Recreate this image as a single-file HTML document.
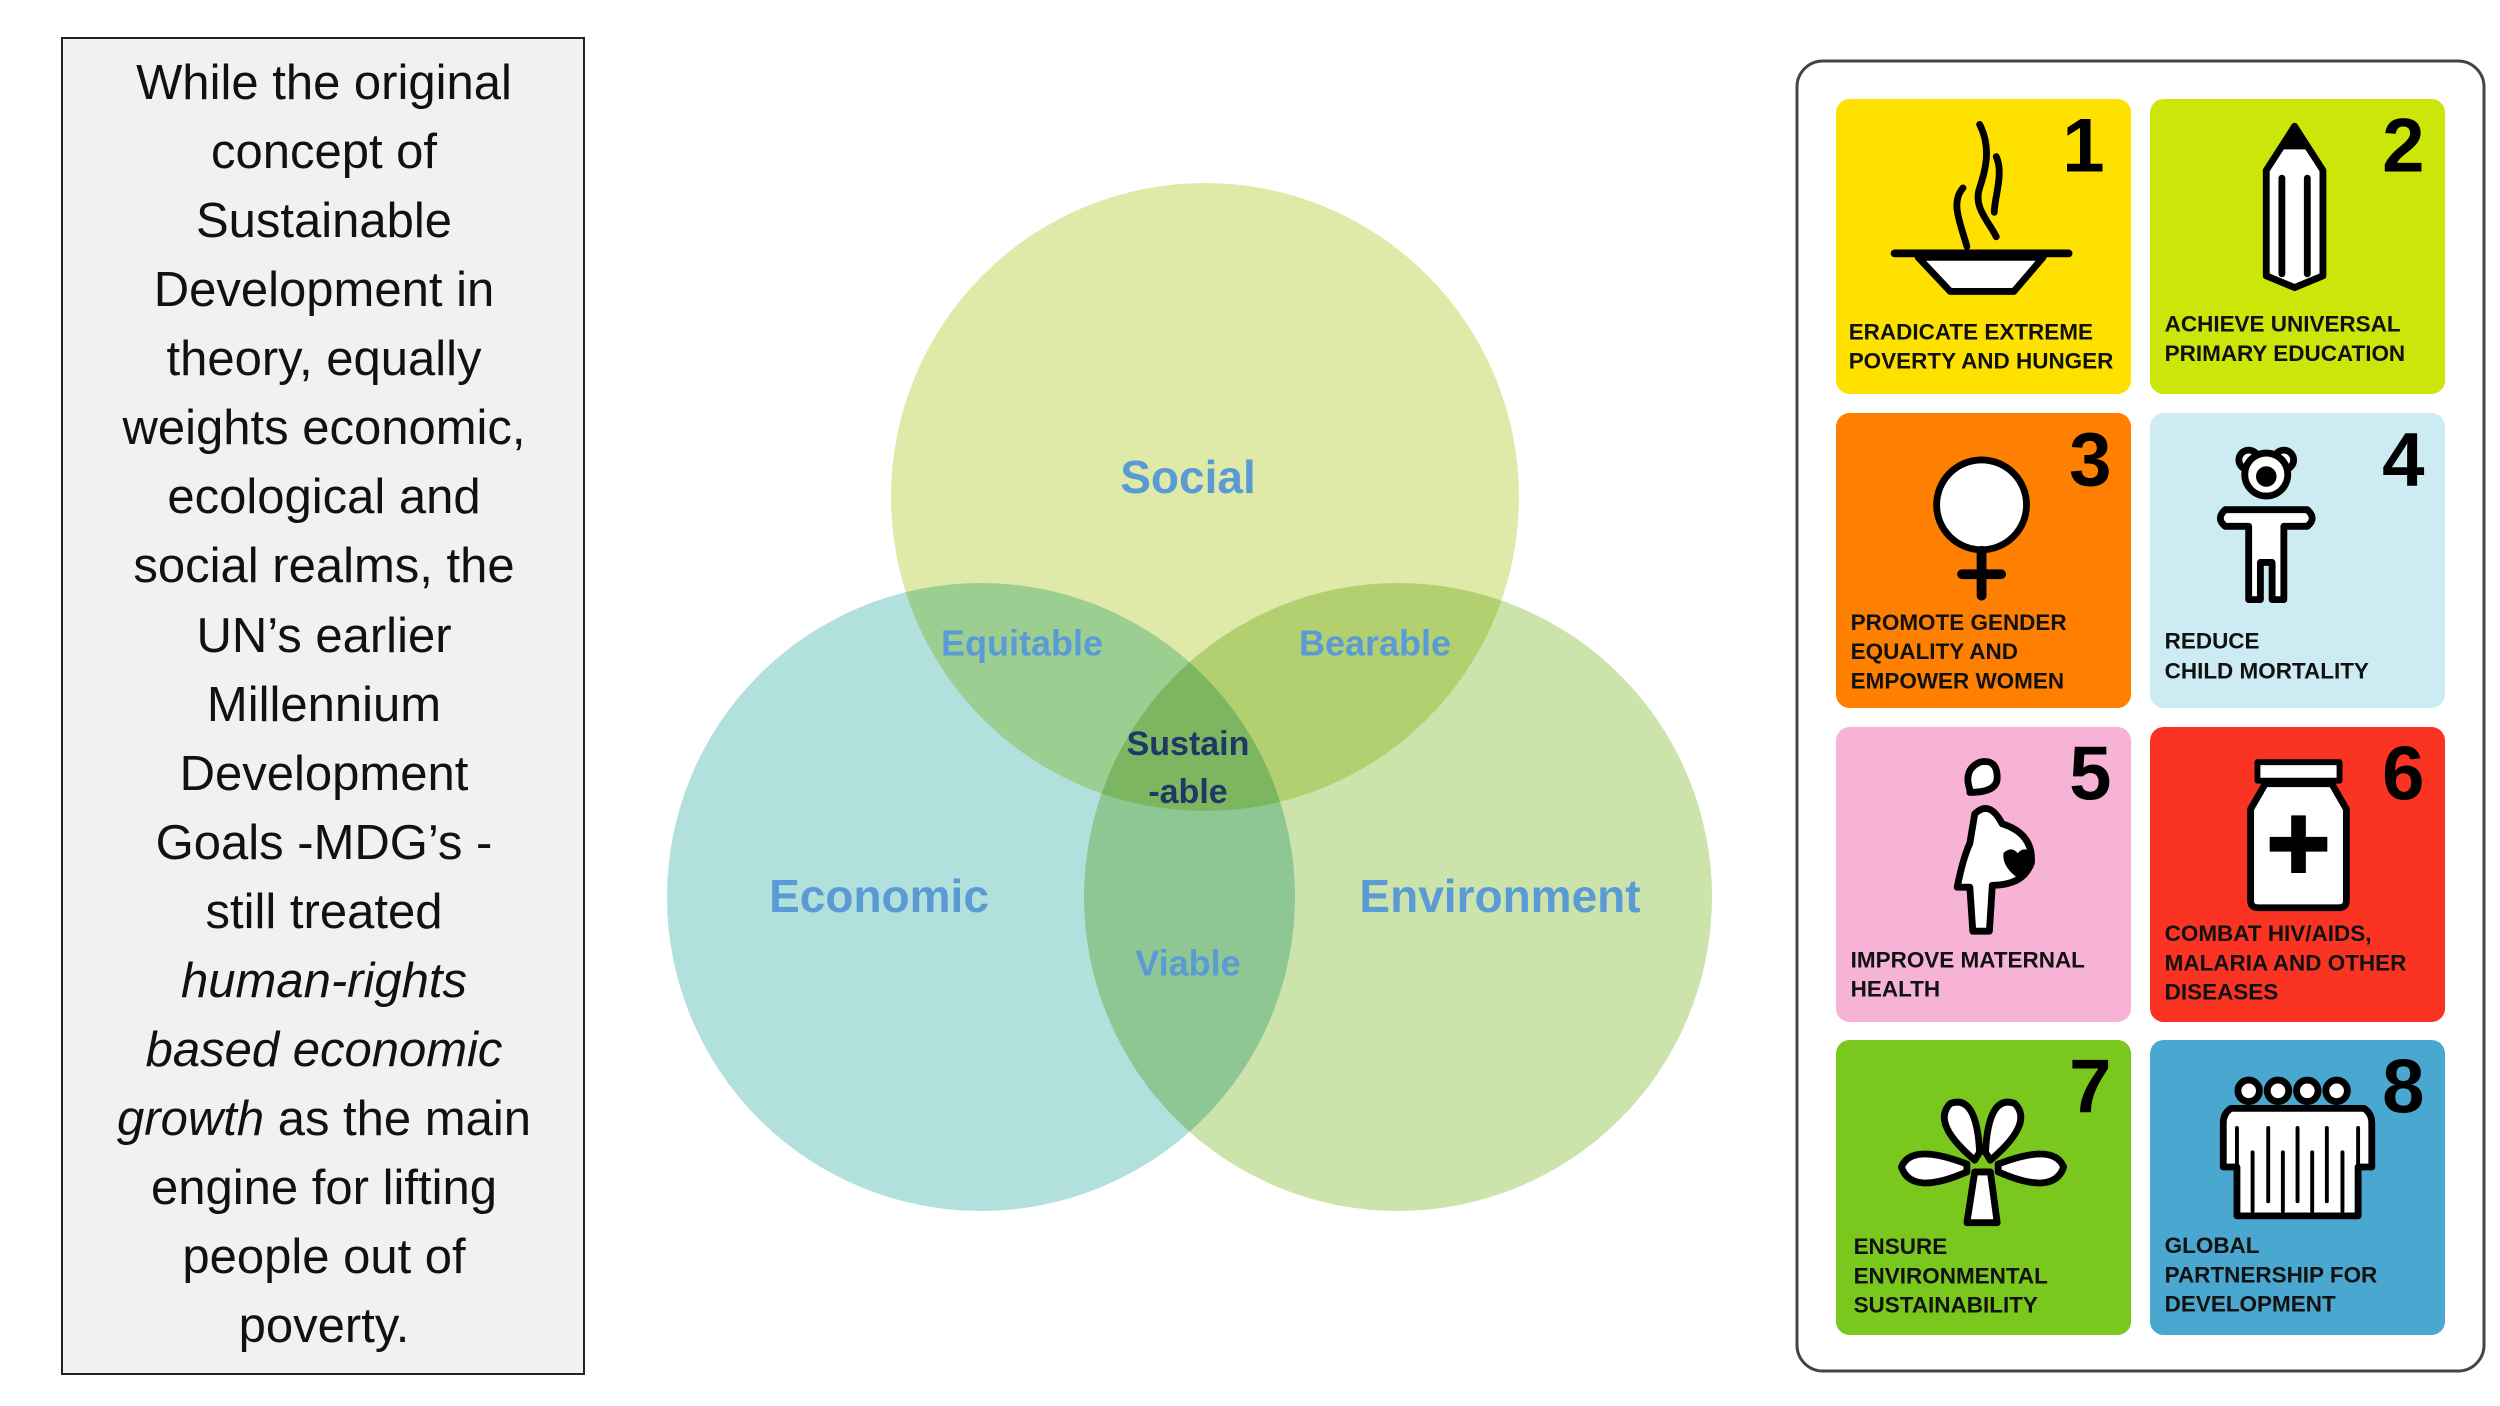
<!DOCTYPE html>
<html><head><meta charset="utf-8"><style>
html,body{margin:0;padding:0;background:#fff;width:2500px;height:1406px;overflow:hidden}
svg{display:block}
.t{font-family:"Liberation Sans",sans-serif;font-size:49px;fill:#111;text-anchor:middle}
.v{font-family:"Liberation Sans",sans-serif;font-weight:bold;text-anchor:middle;dominant-baseline:central}
.g{font-family:"Liberation Sans",sans-serif;font-weight:bold;font-size:23px;fill:#111}
.n{font-family:"Liberation Sans",sans-serif;font-weight:bold;font-size:78px;fill:#000;text-anchor:end}
.ic{fill:#fff;stroke:#000;stroke-width:7;stroke-linejoin:round;stroke-linecap:round}
</style></head><body>
<svg width="2500" height="1406" viewBox="0 0 2500 1406">
<rect x="62" y="38" width="522" height="1336" fill="#f1f1f1" stroke="#222" stroke-width="2"/>
<g class="t" xml:space="preserve">
<text x="324" y="99">While the original</text>
<text x="324" y="168">concept of</text>
<text x="324" y="237">Sustainable</text>
<text x="324" y="306">Development in</text>
<text x="324" y="375">theory, equally</text>
<text x="324" y="444">weights economic,</text>
<text x="324" y="513">ecological and</text>
<text x="324" y="582">social realms, the</text>
<text x="324" y="652">UN’s earlier</text>
<text x="324" y="721">Millennium</text>
<text x="324" y="790">Development</text>
<text x="324" y="859">Goals  -MDG’s -</text>
<text x="324" y="928">still treated</text>
<text x="324" y="997" font-style="italic">human-rights</text>
<text x="324" y="1066" font-style="italic">based  economic</text>
<text x="324" y="1135"><tspan font-style="italic">growth</tspan> as the main</text>
<text x="324" y="1204">engine for lifting</text>
<text x="324" y="1273">people out of</text>
<text x="324" y="1342">poverty.</text>
</g>

<g style="isolation:isolate">
<circle cx="1205" cy="497" r="314" fill="#e0eaa8"/>
<circle cx="981" cy="897" r="314" fill="#b2e0dc" style="mix-blend-mode:multiply"/>
<circle cx="1398" cy="897" r="314" fill="#cce3ab" style="mix-blend-mode:multiply"/>
</g>
<g class="v" fill="#5b9bd5">
<text x="1188" y="477" font-size="46">Social</text>
<text x="1022" y="643" font-size="36">Equitable</text>
<text x="1375" y="643" font-size="36">Bearable</text>
<text x="879" y="896" font-size="46">Economic</text>
<text x="1500" y="896" font-size="46">Environment</text>
<text x="1188" y="963" font-size="36">Viable</text>
<text x="1188" y="744" font-size="34" fill="#1f3864">Sustain</text>
<text x="1188" y="792" font-size="34" fill="#1f3864">-able</text>
</g>

<rect x="1797" y="61" width="687" height="1310" rx="26" fill="#fff" stroke="#444" stroke-width="3"/>

<!-- tile 1 -->
<g transform="translate(1836,99) scale(0.977) translate(-1838,-99)">
<rect x="1838" y="99" width="302" height="302" rx="14" fill="#ffe100"/>
<text class="n" x="2113" y="173">1</text>
<text class="g" x="1851" y="345">ERADICATE EXTREME</text>
<text class="g" x="1851" y="375">POVERTY AND HUNGER</text>
<g class="ic">
<path d="M1898 257 L2076 257" stroke-width="8"/>
<path d="M1922 261 L1955 296 L2020 296 L2050 261 Z"/>
<path d="M1985 125 C1998 150 1990 175 1985 190 C1978 210 1995 225 2002 240" fill="none"/>
<path d="M1968 190 C1955 205 1965 225 1972 250" fill="none"/>
<path d="M2002 158 C2010 175 2000 200 2000 215" fill="none"/>
</g></g>
<!-- tile 2 -->
<g transform="translate(2150,99) scale(0.977) translate(-2157,-99)">
<rect x="2157" y="99" width="302" height="302" rx="14" fill="#cde60a"/>
<text class="n" x="2438" y="173">2</text>
<text class="g" x="2172" y="337">ACHIEVE UNIVERSAL</text>
<text class="g" x="2172" y="367">PRIMARY EDUCATION</text>
<g class="ic">
<path d="M2305 127 L2276 172 L2276 280 L2305 292 L2334 280 L2334 172 Z"/>
<path d="M2305 127 L2293 147 L2317 147 Z" fill="#000"/>
<path d="M2292 180 L2292 278 M2318 180 L2318 278" fill="none"/>
</g></g>
<!-- tile 3 -->
<g transform="translate(1836,413) scale(0.977) translate(-1838,-419)">
<rect x="1838" y="419" width="302" height="302" rx="14" fill="#ff7f00"/>
<text class="n" x="2120" y="493">3</text>
<text class="g" x="1853" y="641">PROMOTE GENDER</text>
<text class="g" x="1853" y="671">EQUALITY AND</text>
<text class="g" x="1853" y="701">EMPOWER WOMEN</text>
<g class="ic">
<circle cx="1987" cy="513" r="46"/>
<path d="M1987 560 L1987 606 M1967 584 L2007 584" fill="none" stroke-width="10"/>
</g></g>
<!-- tile 4 -->
<g transform="translate(2150,413) scale(0.977) translate(-2157,-419)">
<rect x="2157" y="419" width="302" height="302" rx="14" fill="#cdebf3"/>
<text class="n" x="2438" y="493">4</text>
<text class="g" x="2172" y="660">REDUCE</text>
<text class="g" x="2172" y="691">CHILD MORTALITY</text>
<g class="ic">
<circle cx="2258" cy="467" r="10"/><circle cx="2294" cy="467" r="10"/>
<circle cx="2276" cy="482" r="22"/>
<circle cx="2276" cy="484" r="7" fill="#000"/>
<path d="M2234 518 L2318 518 Q2328 527 2318 535 L2294 535 L2294 610 L2282 610 L2282 572 L2270 572 L2270 610 L2258 610 L2258 535 L2234 535 Q2224 527 2234 518 Z"/>
</g></g>
<!-- tile 5 -->
<g transform="translate(1836,727) scale(0.977) translate(-1838,-726)">
<rect x="1838" y="726" width="302" height="302" rx="14" fill="#f7b3d6"/>
<text class="n" x="2120" y="800">5</text>
<text class="g" x="1853" y="972">IMPROVE MATERNAL</text>
<text class="g" x="1853" y="1002">HEALTH</text>
<g class="ic">
<path d="M1975 790 Q1968 770 1985 762 Q2003 758 2003 778 Q2003 793 1975 793 Z"/>
<path d="M1980 815 Q1995 800 2008 825 Q2040 835 2038 865 Q2030 888 1998 888 L1995 935 L1978 935 L1975 890 L1962 890 Q1968 860 1975 845 Z"/>
<path d="M2010 855 Q2018 848 2024 856 Q2030 848 2038 855 Q2040 868 2024 880 Q2008 868 2010 855 Z" fill="#000" stroke-width="1"/>
</g></g>
<!-- tile 6 -->
<g transform="translate(2150,727) scale(0.977) translate(-2157,-726)">
<rect x="2157" y="726" width="302" height="302" rx="14" fill="#fa3322"/>
<text class="n" x="2438" y="800">6</text>
<text class="g" x="2172" y="945">COMBAT HIV/AIDS,</text>
<text class="g" x="2172" y="975">MALARIA AND OTHER</text>
<text class="g" x="2172" y="1005">DISEASES</text>
<g class="ic">
<rect x="2267" y="762" width="84" height="19" stroke-width="6"/>
<path d="M2275 784 L2343 784 L2358 810 L2358 904 Q2358 911 2350 911 L2268 911 Q2260 911 2260 904 L2260 810 Z"/>
<path d="M2302 817 L2316 817 L2316 839 L2338 839 L2338 853 L2316 853 L2316 875 L2302 875 L2302 853 L2280 853 L2280 839 L2302 839 Z" fill="#000" stroke-width="1"/>
</g></g>
<!-- tile 7 -->
<g transform="translate(1836,1040) scale(0.977) translate(-1838,-1045)">
<rect x="1838" y="1045" width="302" height="302" rx="14" fill="#7ac81e"/>
<text class="n" x="2120" y="1119">7</text>
<text class="g" x="1856" y="1264">ENSURE</text>
<text class="g" x="1856" y="1294">ENVIRONMENTAL</text>
<text class="g" x="1856" y="1324">SUSTAINABILITY</text>
<g class="ic">
<path d="M1980 1180 L1972 1232 L2003 1232 L1996 1180 Z"/>
<path d="M1980 1168 Q1935 1130 1955 1110 Q1982 1100 1985 1160 Z"/>
<path d="M1996 1168 Q2041 1130 2021 1110 Q1994 1100 1991 1160 Z"/>
<path d="M1972 1172 Q1915 1150 1905 1175 Q1915 1205 1972 1180 Z"/>
<path d="M2004 1172 Q2061 1150 2071 1175 Q2061 1205 2004 1180 Z"/>
</g></g>
<!-- tile 8 -->
<g transform="translate(2150,1040) scale(0.977) translate(-2157,-1045)">
<rect x="2157" y="1045" width="302" height="302" rx="14" fill="#4aa8d0"/>
<text class="n" x="2438" y="1119">8</text>
<text class="g" x="2172" y="1263">GLOBAL</text>
<text class="g" x="2172" y="1293">PARTNERSHIP FOR</text>
<text class="g" x="2172" y="1323">DEVELOPMENT</text>
<g class="ic">
<circle cx="2258" cy="1097" r="11"/><circle cx="2288" cy="1097" r="11"/><circle cx="2318" cy="1097" r="11"/><circle cx="2348" cy="1097" r="11"/>
<path d="M2240 1115 L2376 1115 Q2384 1120 2384 1130 L2384 1175 L2370 1175 L2370 1225 L2246 1225 L2246 1175 L2232 1175 L2232 1130 Q2232 1120 2240 1115 Z"/>
<path d="M2246 1135 L2246 1210 M2262 1160 L2262 1220 M2278 1135 L2278 1210 M2293 1160 L2293 1220 M2308 1135 L2308 1210 M2323 1160 L2323 1220 M2338 1135 L2338 1210 M2354 1160 L2354 1220 M2370 1135 L2370 1210" fill="none" stroke-width="4"/>
</g></g>
</svg>
</body></html>
